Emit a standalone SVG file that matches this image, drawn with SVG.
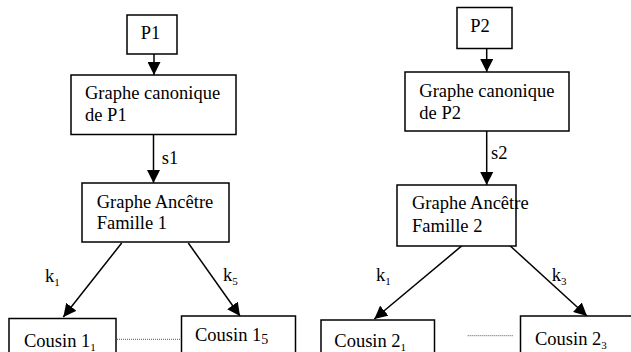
<svg xmlns="http://www.w3.org/2000/svg" width="631" height="352" viewBox="0 0 631 352">
<style>
.box{fill:#fff;stroke:#000;stroke-width:1.5}
text{font-family:'Liberation Serif','DejaVu Serif',serif;font-size:18.5px;fill:#000}
.sub{font-size:11px}
.c{stroke:#000;stroke-width:1.5;fill:none}
.dot{stroke:#555;stroke-width:1;stroke-dasharray:1 1;fill:none}
</style>
<defs>
<marker id="ah" viewBox="0 0 10 10" refX="10" refY="5" markerWidth="13" markerHeight="13" markerUnits="userSpaceOnUse" orient="auto">
<path d="M0,0 L10,5 L0,10 Z" fill="#000"/>
</marker>
</defs>
<g id="connectors">
<line class="c" x1="154" y1="54" x2="154" y2="75" marker-end="url(#ah)"/>
<line class="c" x1="153.5" y1="134.5" x2="153.5" y2="183" marker-end="url(#ah)"/>
<line class="c" x1="121.7" y1="243" x2="63.3" y2="317" marker-end="url(#ah)"/>
<line class="c" x1="188.3" y1="243" x2="240" y2="316" marker-end="url(#ah)"/>
<line class="c" x1="486.7" y1="48.3" x2="486.7" y2="72" marker-end="url(#ah)"/>
<line class="c" x1="486.7" y1="131" x2="486.7" y2="185" marker-end="url(#ah)"/>
<line class="c" x1="462" y1="245.7" x2="374.3" y2="319" marker-end="url(#ah)"/>
<line class="c" x1="510" y1="245.7" x2="587" y2="316" marker-end="url(#ah)"/>
<line class="dot" x1="117" y1="339.3" x2="181" y2="339.3"/>
<line class="dot" x1="467.7" y1="335.7" x2="512.7" y2="335.7"/>
<text font-family="Liberation Serif, serif" x="161.7" y="164">s1</text>
<text font-family="Liberation Serif, serif" x="491" y="159">s2</text>
<text font-family="Liberation Serif, serif" x="45" y="281.7">k<tspan class="sub" dy="4">1</tspan></text>
<text font-family="Liberation Serif, serif" x="223" y="281">k<tspan class="sub" dy="4">5</tspan></text>
<text font-family="Liberation Serif, serif" x="376" y="281">k<tspan class="sub" dy="4">1</tspan></text>
<text font-family="Liberation Serif, serif" x="551.7" y="281">k<tspan class="sub" dy="4">3</tspan></text>
</g>
<g id="p1"><rect class="box" x="127" y="15" width="50" height="39"/><text font-family="Liberation Serif, serif" x="140.7" y="39">P1</text></g>
<g id="gc1"><rect class="box" x="71" y="75" width="165" height="59.5"/><text font-family="Liberation Serif, serif" x="85" y="99">Graphe canonique</text><text font-family="Liberation Serif, serif" x="85" y="120.7">de P1</text></g>
<g id="ga1"><rect class="box" x="82" y="183" width="147" height="59"/><text font-family="Liberation Serif, serif" x="96.7" y="207.7">Graphe Ancêtre</text><text font-family="Liberation Serif, serif" x="96.7" y="229.3">Famille 1</text></g>
<g id="c11"><rect class="box" x="9" y="318.5" width="107" height="40"/><text font-family="Liberation Serif, serif" x="24" y="346.7">Cousin 1<tspan class="sub" dy="4">1</tspan></text></g>
<g id="c15"><rect class="box" x="181.5" y="316" width="114" height="40"/><text font-family="Liberation Serif, serif" x="195" y="341">Cousin 1<tspan font-size="14" dy="3">5</tspan></text></g>
<g id="p2"><rect class="box" x="457" y="7.5" width="55" height="41"/><text font-family="Liberation Serif, serif" x="470.3" y="32.3">P2</text></g>
<g id="gc2"><rect class="box" x="405" y="72" width="164" height="59"/><text font-family="Liberation Serif, serif" x="419.3" y="97.3">Graphe canonique</text><text font-family="Liberation Serif, serif" x="419.3" y="118.7">de P2</text></g>
<g id="ga2"><rect class="box" x="397" y="185" width="119" height="61"/><text font-family="Liberation Serif, serif" x="412" y="209.3">Graphe Ancêtre</text><text font-family="Liberation Serif, serif" x="412" y="231.7">Famille 2</text></g>
<g id="c21"><rect class="box" x="321" y="320" width="113.5" height="40"/><text font-family="Liberation Serif, serif" x="334.3" y="346.5">Cousin 2<tspan class="sub" dy="4">1</tspan></text></g>
<g id="c23"><rect class="box" x="520.5" y="316" width="120" height="40"/><text font-family="Liberation Serif, serif" x="535" y="345">Cousin 2<tspan class="sub" dy="4">3</tspan></text></g>
</svg>
